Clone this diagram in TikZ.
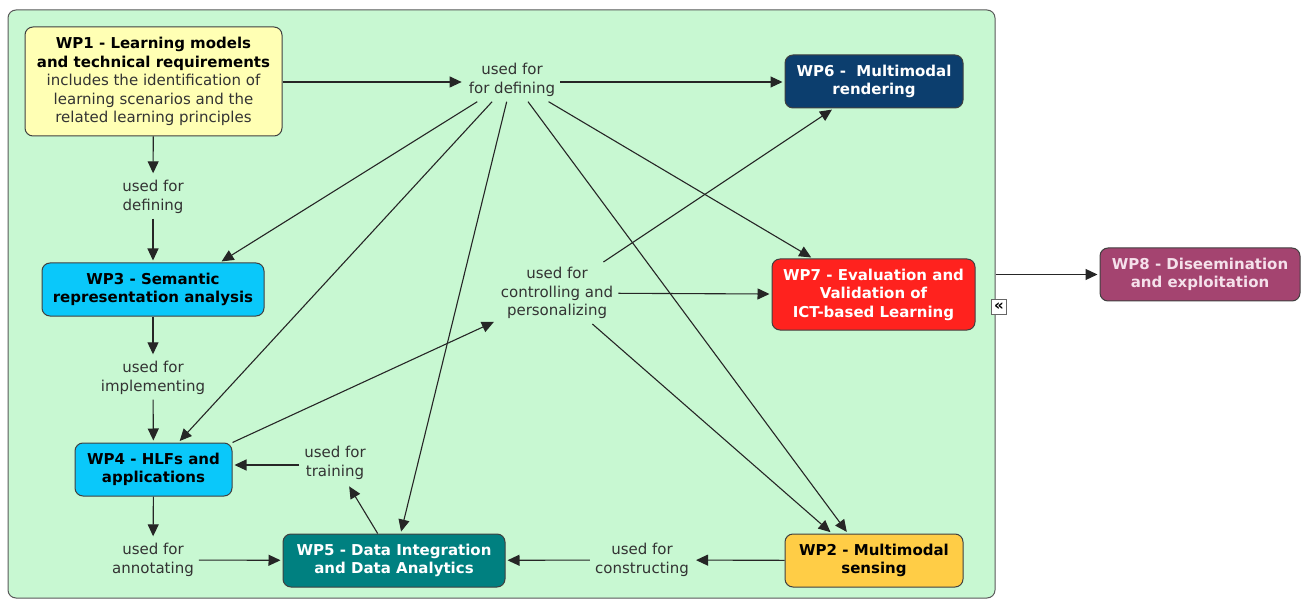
\documentclass[tikz,border=0pt]{standalone}
\usepackage{fontspec}
\setmainfont{DejaVu Sans}
\usetikzlibrary{arrows.meta, calc, positioning}
\definecolor{grpgreen}{RGB}{200,248,210}
\definecolor{wpyellow}{RGB}{255,255,180}
\definecolor{wpnavy}{RGB}{12,62,110}
\definecolor{wpcyan}{RGB}{10,200,250}
\definecolor{wpred}{RGB}{255,34,30}
\definecolor{wpplum}{RGB}{164,68,112}
\definecolor{wpteal}{RGB}{0,128,128}
\definecolor{wpgold}{RGB}{255,205,70}
\definecolor{wppink}{RGB}{245,225,235}
\newcommand{\wpfont}{\fontsize{15}{18.5}\selectfont}
\tikzset{
    wpbox/.style args={#1 #2}{
        draw=black!75, line width=1pt, rounded corners=8pt,
        fill=#1, text=#2, font=\bfseries\wpfont, align=center, inner sep=0pt
    },
    usedfor/.style={text=black!80, font=\wpfont, align=center, inner sep=5pt},
    linkA/.style={line width=1.1pt, draw=black!85,
        -{Triangle[length=12pt,width=11pt]}, shorten >=2pt}
}

\begin{document}
\begin{tikzpicture}[x=1pt, y=-1pt]
    \useasboundingbox (0,0) rectangle (1313,601);
    % the group frame
    \node[draw=black!65, line width=1pt, rounded corners=8pt, fill=grpgreen,
          minimum width=987pt, minimum height=588pt, inner sep=0pt] (group) at (501.5,304) {};
    \node[draw=black!60, line width=1pt, fill=white, inner sep=0pt,
          font=\bfseries\fontsize{15}{15}\selectfont,
          minimum width=15pt, minimum height=15pt] (fold) at (999,307) {«};
    % work packages
    \node[wpbox={wpyellow black}, minimum width=257pt, minimum height=109pt] (wp1) at (153.5,81.5)
        {WP1 - Learning models\\and technical requirements\\
         {\mdseries\color{black!80}includes the identification of}\\
         {\mdseries\color{black!80}learning scenarios and the}\\
         {\mdseries\color{black!80}related learning principles}};
    \node[wpbox={wpnavy white}, minimum width=178pt, minimum height=53pt] (wp6) at (874,81.5)
        {WP6 -\ \ Multimodal\\rendering};
    \node[wpbox={wpcyan black}, minimum width=222pt, minimum height=53pt] (wp3) at (153,289.5)
        {WP3 - Semantic\\representation analysis};
    \node[wpbox={wpred white}, minimum width=203pt, minimum height=71pt] (wp7) at (873.5,294.5)
        {WP7 - Evaluation and\\Validation of\\ICT-based Learning};
    \node[wpbox={wpplum wppink}, minimum width=200pt, minimum height=53pt] (wp8) at (1200,274.5)
        {WP8 - Diseemination\\and exploitation};
    \node[wpbox={wpcyan black}, minimum width=157pt, minimum height=53pt] (wp4) at (153.5,469.5)
        {WP4 - HLFs and\\applications};
    \node[wpbox={wpteal white}, minimum width=222pt, minimum height=53pt] (wp5) at (394,560.5)
        {WP5 - Data Integration\\and Data Analytics};
    \node[wpbox={wpgold black}, minimum width=178pt, minimum height=53pt] (wp2) at (874,560.5)
        {WP2 - Multimodal\\sensing};
    % linking phrases
    \node[usedfor] (deflab) at (512,80) {used for\\for defining};
    \node[usedfor] (deflabB) at (153,197) {used for\\defining};
    \node[usedfor] (implab) at (153,378) {used for\\implementing};
    \node[usedfor] (ctrllab) at (557,293) {used for\\controlling and\\personalizing};
    \node[usedfor] (trainlab) at (335,463) {used for\\training};
    \node[usedfor] (annolab) at (153,560) {used for\\annotating};
    \node[usedfor] (conslab) at (642,560) {used for\\constructing};
    % links
    \draw[linkA] (wp1.east |- 0,82) -- (deflab.west |- 0,82);
    \draw[linkA] (deflab.east |- 0,82) -- (wp6.west |- 0,82);
    \draw[linkA] (deflab) -- ($(wp3.north)!0.6!(wp3.north east)$);
    \draw[linkA] (deflab) -- (wp4);
    \draw[linkA] (deflab) -- (wp5);
    \draw[linkA] (deflab) -- ($(wp2.north)+(-26,0)$);
    \draw[linkA] (deflab) -- (wp7);
    \draw[linkA] (wp1) -- (deflabB);
    \draw[linkA] (deflabB) -- (wp3);
    \draw[linkA] (wp3) -- (implab);
    \draw[linkA] (implab) -- (wp4);
    \draw[linkA] (wp4.north east) -- (ctrllab);
    \draw[linkA] (ctrllab) -- (wp6);
    \draw[linkA] (ctrllab) -- (wp7);
    \draw[linkA] (ctrllab) -- ($(wp2.north)+(-42,0)$);
    \draw[linkA] (wp5) -- (trainlab);
    \draw[linkA] (trainlab.west |- 0,465) -- (wp4.east |- 0,465);
    \draw[linkA] (wp4) -- (annolab);
    \draw[linkA] (annolab) -- (wp5);
    \draw[linkA] (wp2) -- (conslab);
    \draw[linkA] (conslab) -- (wp5);
    \draw[linkA] (group.east |- wp8) -- (wp8);
\end{tikzpicture}
\end{document}
